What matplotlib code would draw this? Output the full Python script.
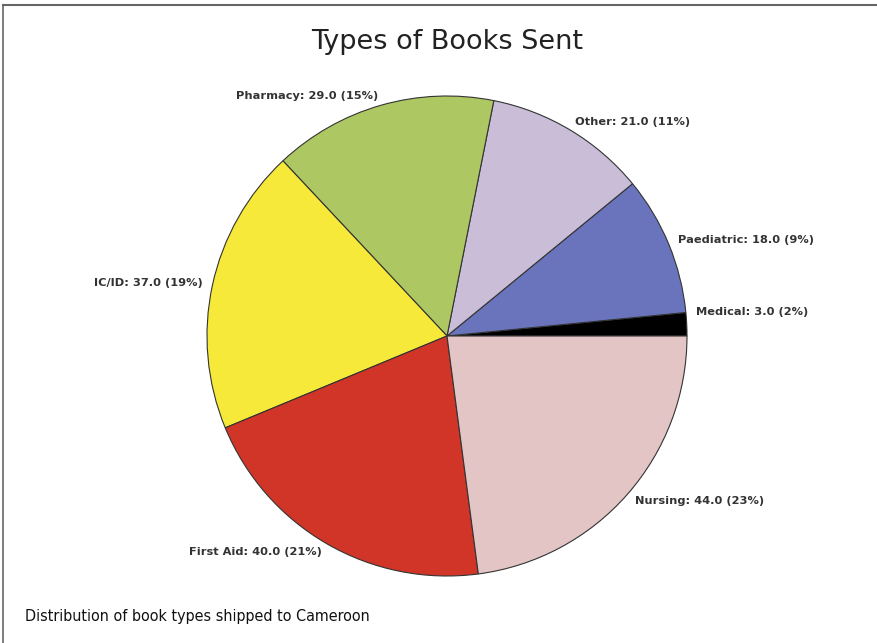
import numpy as np
import matplotlib.pyplot as plt
from matplotlib.lines import Line2D

categories = ["Medical", "Paediatric", "Other", "Pharmacy", "IC/ID", "First Aid", "Nursing"]
counts = [3.0, 18.0, 21.0, 29.0, 37.0, 40.0, 44.0]
colors = ["#000000", "#6a74bd", "#c9bdd8", "#adc862", "#f6e93a", "#d13528", "#e3c5c5"]

title = "Types of Books Sent"
caption = "Distribution of book types shipped to Cameroon"

W, H = 878, 643
fig = plt.figure(figsize=(W / 100, H / 100), dpi=100)

# pie area: centre (447, 336) px, radius 240 px
cx, cy, r = 447, 336, 240
ax = fig.add_axes([(cx - r) / W, (H - cy - r) / H, 2 * r / W, 2 * r / H])
wedges, _ = ax.pie(counts, colors=colors, startangle=0, counterclock=True,
                   wedgeprops=dict(edgecolor="#333333", linewidth=0.8))
ax.set_xlim(-1, 1)
ax.set_ylim(-1, 1)
ax.set_aspect("equal")
ax.axis("off")

total = sum(counts)
for w, name, v in zip(wedges, categories, counts):
    mid = np.deg2rad((w.theta1 + w.theta2) / 2)
    x, y = 1.04 * np.cos(mid), 1.04 * np.sin(mid)
    if name == "Medical":
        y += 0.05
    ha = "left" if np.cos(mid) >= 0 else "right"
    ax.text(x, y, f"{name}: {v:.1f} ({round(100 * v / total):.0f}%)",
            ha=ha, va="center", fontsize=8.2, fontweight="bold", color="#333333")

fig.text(447 / W, 1 - 42 / H, title, ha="center", va="center",
         fontsize=19.5, color="#222222")
fig.text(25 / W, 1 - 617 / H, caption, ha="left", va="center", fontsize=11.5,
         family="DejaVu Sans", stretch="condensed", color="#111111")

# outer frame, top and left edges
fig.add_artist(Line2D([3 / W, 1], [1 - 5 / H, 1 - 5 / H], color="#666666", lw=1.5))
fig.add_artist(Line2D([3 / W, 3 / W], [0, 1 - 5 / H], color="#666666", lw=1.2))

fig.savefig("out.png", dpi=100)
